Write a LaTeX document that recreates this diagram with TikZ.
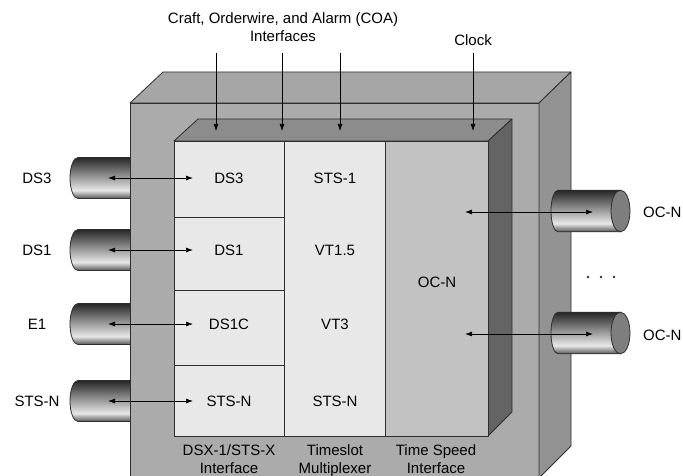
\documentclass[tikz,border=0pt]{standalone}
\usepackage{fontspec}
\setmainfont{Liberation Sans}
\usetikzlibrary{arrows.meta}
\definecolor{outerfront}{HTML}{ABABAB}
\definecolor{outertop}{HTML}{A6A6A6}
\definecolor{outerside}{HTML}{939393}
\definecolor{innertop}{HTML}{8C8C8C}
\definecolor{innerside}{HTML}{646464}
\definecolor{cellA}{HTML}{E8E8E8}
\definecolor{cellB}{HTML}{C2C2C2}
\definecolor{edgecol}{HTML}{2E2E2E}
\definecolor{capface}{HTML}{7E7E7E}
\definecolor{cyltop}{HTML}{262626}
\definecolor{cylhi}{HTML}{E8E8E8}
\definecolor{cylbot}{HTML}{555555}
\pgfdeclarehorizontalshading{cylshade}{100bp}{color(0bp)=(cylbot); color(25bp)=(cylbot); color(35bp)=(cylhi); color(75bp)=(cyltop); color(100bp)=(cyltop)}
\begin{document}
\begin{tikzpicture}[x=1pt,y=-1pt,
  font=\fontsize{15}{18}\selectfont,
  face/.style={draw=edgecol, line width=0.8pt, line join=round},
  cylbody/.style={draw=edgecol, line width=0.8pt, shading=cylshade, shading angle=90},
  lbl/.style={inner sep=0pt, text height=10.7pt, text depth=0pt},
  ml/.style={inner sep=0pt, align=center, anchor=north},
  arr/.style={{Latex[length=7pt,width=5pt]}-{Latex[length=7pt,width=5pt]}, line width=0.7pt},
  darr/.style={-{Latex[length=7pt,width=5pt]}, line width=0.7pt}]
\useasboundingbox (0,0) rectangle (683,476);
\clip (0,0) rectangle (683,476);

% left cylinders
\foreach \c in {178,250,324,401}{
  \shadedraw[cylbody] (131,\c-20.5) -- (78,\c-20.5) arc (270:90:8 and 20.5) -- (131,\c+20.5) -- cycle;
}

% outer box
\filldraw[face, fill=outerfront] (130,103) rectangle (539,495);
\filldraw[face, fill=outertop] (130,103) -- (163,72) -- (571,72) -- (539,103) -- cycle;
\filldraw[face, fill=outerside] (539,103) -- (571,72) -- (571,446) -- (539,478) -- cycle;

% inner box
\filldraw[face, fill=innertop] (174,141) -- (198,119) -- (512,119) -- (488,141) -- cycle;
\filldraw[face, fill=innerside] (488,141) -- (512,119) -- (512,412) -- (488,436) -- cycle;
\filldraw[face, fill=cellA] (174,141) rectangle (385,436);
\filldraw[face, fill=cellB] (385,141) rectangle (488,436);
\draw[face] (284,141) -- (284,436);
\draw[face] (174,217) -- (284,217);
\draw[face] (174,290) -- (284,290);
\draw[face] (174,365) -- (284,365);

% right cylinders
\foreach \c in {211,333}{
  \shadedraw[cylbody] (621,\c-20.8) -- (558,\c-20.8) arc (270:90:7 and 20.8) -- (621,\c+20.8) -- cycle;
  \filldraw[face, fill=capface] (620.5,\c) ellipse (9.5 and 20.8);
}

% dots
\foreach \x in {588,601,614}{\fill[black!80] (\x,277) circle (1.4);}

% inner labels
\node[lbl] (ds3in) at (229,178) {DS3};
\node[lbl] (ds1in) at (229,250) {DS1};
\node[lbl] (ds1cin) at (229,324) {DS1C};
\node[lbl] (stsin) at (229,401) {STS-N};
\node[lbl] (sts1) at (335,178) {STS-1};
\node[lbl] (vt15) at (335,250) {VT1.5};
\node[lbl] (vt3) at (335,324) {VT3};
\node[lbl] (stsn2) at (335,401) {STS-N};
\node[lbl] (ocnin) at (437,282) {OC-N};

% outside labels
\node[lbl] (ds3) at (37,178) {DS3};
\node[lbl] (ds1) at (37,250) {DS1};
\node[lbl] (e1) at (37,324) {E1};
\node[lbl] (stsn) at (37,401) {STS-N};
\node[lbl, anchor=west] (ocn1) at (643,212) {OC-N};
\node[lbl, anchor=west] (ocn2) at (643,335) {OC-N};

\node[ml] (coa) at (283,12.7) {Craft, Orderwire, and Alarm (COA)\\Interfaces};
\node[lbl] (clock) at (473,40) {Clock};

\node[ml] (dsx) at (229,444.5) {DSX-1/STS-X\\Interface};
\node[ml] (tsm) at (335,444.5) {Timeslot\\Multiplexer};
\node[ml] (tsi) at (436,444.5) {Time Speed\\Interface};

% connector end points
\foreach \n/\c in {a/178,b/250,c/324,d/401}{
  \coordinate (l\n1) at (108,\c);
  \coordinate (l\n2) at (193,\c);
  \draw[arr] (l\n1) -- (l\n2);
}
\foreach \n/\c in {a/212,b/334}{
  \coordinate (r\n1) at (465,\c);
  \coordinate (r\n2) at (593,\c);
  \draw[arr] (r\n1) -- (r\n2);
}
\foreach \n/\x in {a/216,b/282,c/340,d/473}{
  \coordinate (t\n1) at (\x,53);
  \coordinate (t\n2) at (\x,131);
  \draw[darr] (t\n1) -- (t\n2);
}
\end{tikzpicture}
\end{document}
